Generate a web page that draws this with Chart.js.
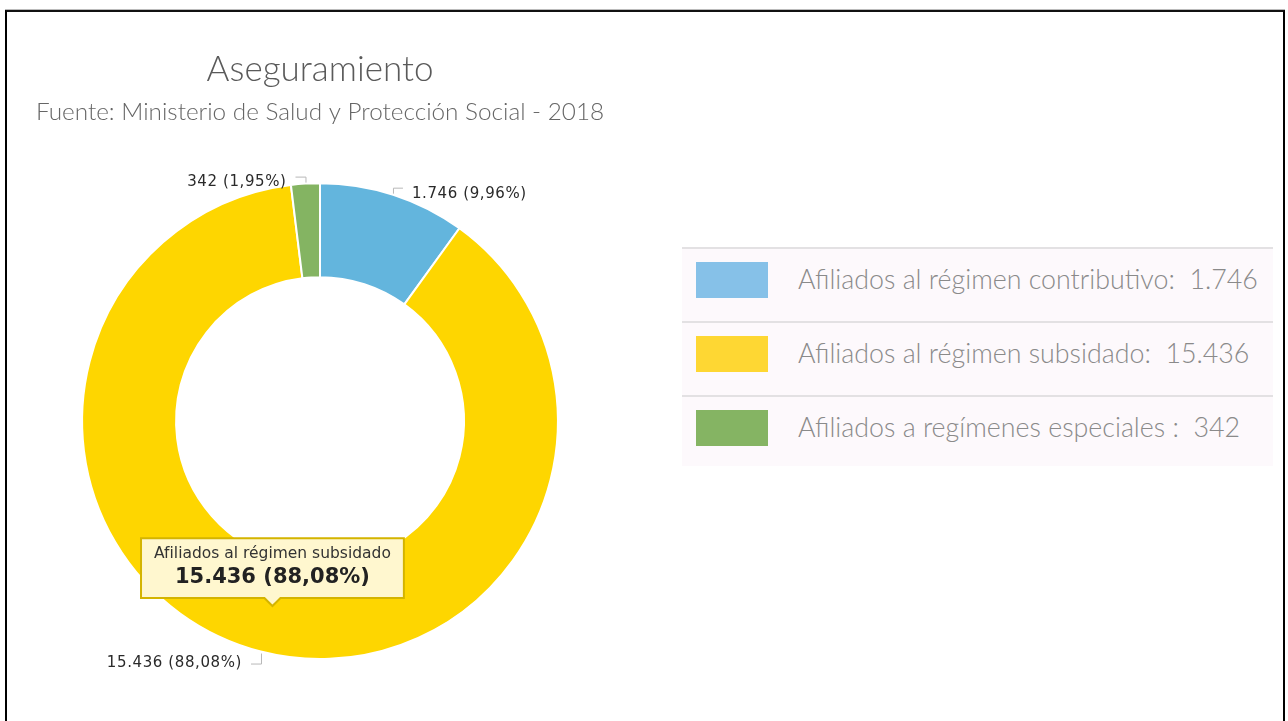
<!DOCTYPE html>
<html lang="es">
<head>
<meta charset="utf-8">
<title>Aseguramiento</title>
<script src="https://cdn.jsdelivr.net/npm/chart.js@4.4.0/dist/chart.umd.min.js"></script>
<style>
  html, body { margin: 0; padding: 0; background: #fff; width: 1288px; height: 721px; overflow: hidden; }
  #frame { position: absolute; left: 5px; top: 10px; width: 1280px; height: 780px; border: 2px solid #000; border-top-color: #111; box-sizing: border-box; box-shadow: 0 -1px 0 #bbb; }
  #chart-box { position: absolute; left: 0; top: 0; width: 640px; height: 721px; }
  #legend { position: absolute; left: 682px; top: 247px; width: 591px; background: #fdf9fc; }
  .row { height: 74px; border-top: 2px solid #e3e1e3; display: flex; align-items: flex-start; box-sizing: border-box; }
  .row:last-child { height: 71px; }
  .sw { width: 72px; height: 36px; margin: 13px 30px 0 14px; flex: none; }
  .txt { font-family: Lato, "Open Sans", sans-serif; font-weight: 300; font-size: 26.8px; line-height: 36px; margin-top: 12px; color: #8a8a8a; white-space: pre; }
</style>
</head>
<body>
<div id="frame"></div>
<div id="chart-box"><canvas id="aseg-chart"></canvas></div>
<div id="legend"></div>

<script>
const labels = ['Afiliados al régimen contributivo', 'Afiliados al régimen subsidado', 'Afiliados a regímenes especiales'];
const legendLabels = ['Afiliados al régimen contributivo:', 'Afiliados al régimen subsidado:', 'Afiliados a regímenes especiales :'];
const values = [1746, 15436, 342];
const sliceColors = ['#63b5dd', '#fed600', '#84b462'];
const legendColors = ['#86c1e8', '#fed733', '#85b463'];

const total = values.reduce((a, b) => a + b, 0);
const fmtNum = v => String(v).replace(/\B(?=(\d{3})+(?!\d))/g, '.');
const fmtPct = v => (v / total * 100).toFixed(2).replace('.', ',') + '%';
const fmtFull = v => fmtNum(v) + ' (' + fmtPct(v) + ')';

// html legend
const legend = document.getElementById('legend');
labels.forEach((l, i) => {
    const row = document.createElement('div');
    row.className = 'row';
    row.innerHTML = '<div class="sw" style="background:' + legendColors[i] + '"></div>' +
        '<span class="txt">' + legendLabels[i] + '  ' + fmtNum(values[i]) + '</span>';
    legend.appendChild(row);
});

// value labels with little leader lines
const sliceLabels = {
    id: 'sliceLabels',
    afterDatasetsDraw(chart) {
        const ctx = chart.ctx;
        const meta = chart.getDatasetMeta(0);
        ctx.save();
        ctx.font = '15px "DejaVu Sans", Verdana, sans-serif';
        ctx.letterSpacing = '0.6px';
        ctx.textBaseline = 'middle';
        meta.data.forEach((arc, i) => {
            const p = arc.getProps(['x', 'y', 'startAngle', 'endAngle', 'outerRadius'], true);
            const mid = (p.startAngle + p.endAngle) / 2;
            const px = p.x + Math.cos(mid) * (p.outerRadius - 1);
            const py = p.y + Math.sin(mid) * (p.outerRadius - 1);
            const up = py < p.y;
            const y0 = up ? py - 2 : py + 3;
            const ly = up ? py - 8 : py + 13;
            const dir = px >= p.x ? 1 : -1;
            ctx.strokeStyle = '#b8b8b8';
            ctx.lineWidth = 1;
            ctx.beginPath();
            ctx.moveTo(px + 0.5, y0);
            ctx.lineTo(px + 0.5, ly + 0.5);
            ctx.lineTo(px + dir * 10, ly + 0.5);
            ctx.stroke();
            ctx.fillStyle = '#2a2a2a';
            ctx.textAlign = dir > 0 ? 'left' : 'right';
            ctx.fillText(fmtFull(values[i]), px + dir * 19, up ? ly + 6 : ly);
        });
        ctx.restore();
    }
};

const ctx = document.getElementById('aseg-chart');
const chart = new Chart(ctx, {
    type: 'doughnut',
    data: {
        labels: labels,
        datasets: [{
            data: values,
            backgroundColor: sliceColors,
            borderColor: '#fff',
            borderWidth: 2,
            hoverOffset: 0
        }]
    },
    plugins: [sliceLabels],
    options: {
        responsive: true,
        maintainAspectRatio: false,
        animation: false,
        events: [],
        cutout: '60.5%',
        layout: { padding: { top: 0, bottom: 61, left: 0, right: 0 } },
        plugins: {
            legend: { display: false },
            title: {
                display: true,
                text: 'Aseguramiento',
                color: '#5a5a5a',
                font: { family: 'Lato, "Open Sans", sans-serif', size: 35, weight: '300' },
                padding: { top: 49, bottom: 7 }
            },
            subtitle: {
                display: true,
                text: 'Fuente: Ministerio de Salud y Protección Social - 2018',
                color: '#666',
                font: { family: 'Lato, "Open Sans", sans-serif', size: 24.3, weight: '300' },
                padding: { top: 0, bottom: 55 }
            },
            tooltip: {
                enabled: true,
                yAlign: 'bottom',
                xAlign: 'center',
                backgroundColor: '#fff7cf',
                borderColor: '#d4b400',
                borderWidth: 2,
                cornerRadius: 0,
                caretSize: 8,
                caretPadding: 0,
                displayColors: false,
                titleColor: '#333',
                bodyColor: '#222',
                titleAlign: 'center',
                bodyAlign: 'center',
                titleFont: { family: '"DejaVu Sans", Verdana, sans-serif', size: 15.5, weight: 'normal' },
                bodyFont: { family: '"DejaVu Sans", Verdana, sans-serif', size: 21, weight: 'bold' },
                titleMarginBottom: 2,
                padding: { top: 6, bottom: 8, left: 13, right: 13 },
                callbacks: {
                    title: items => labels[items[0].dataIndex],
                    label: item => fmtFull(item.raw)
                }
            }
        }
    }
});

chart.tooltip.setActiveElements([{ datasetIndex: 0, index: 1 }], { x: 0, y: 0 });
chart.update();
</script>
</body>
</html>
